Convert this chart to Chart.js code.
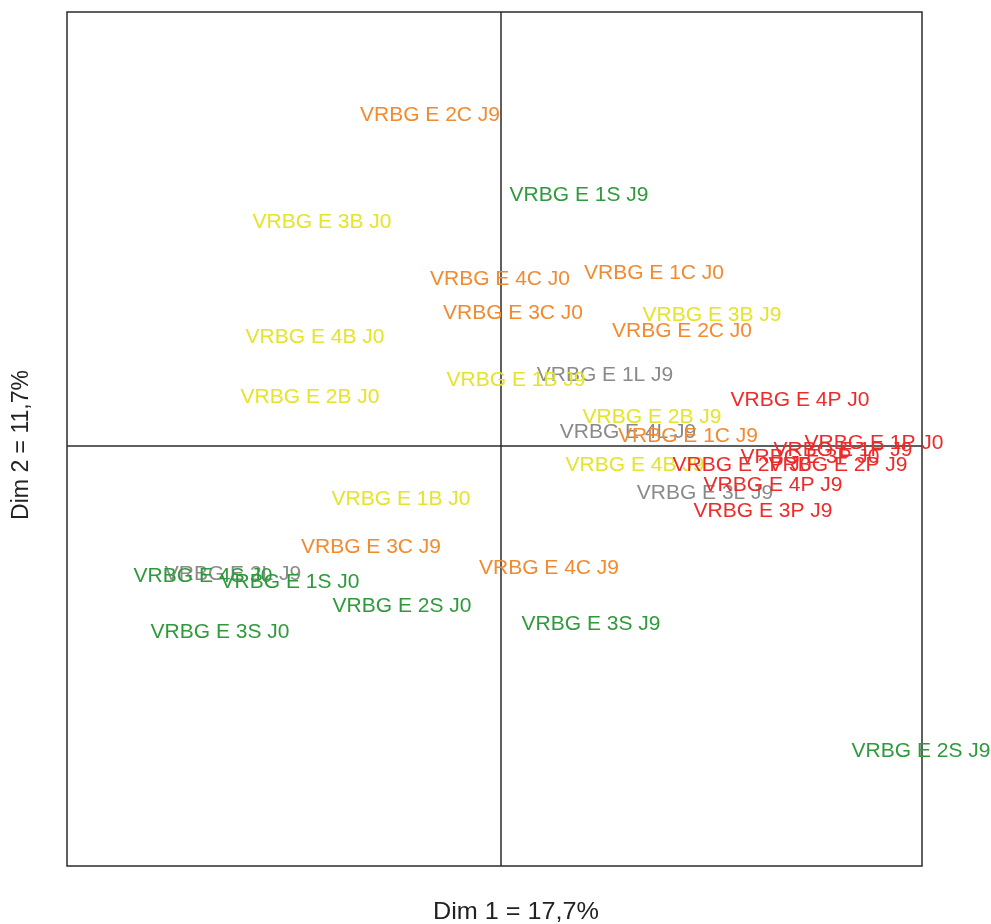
<!DOCTYPE html>
<html>
<head>
<meta charset="utf-8">
<script src="https://cdn.jsdelivr.net/npm/chart.js@4.4.1/dist/chart.umd.min.js"></script>
<style>
html,body{margin:0;padding:0;background:#fff;}
#wrap{width:991px;height:924px;position:relative;}
</style>
</head>
<body>
<div id="wrap"><canvas id="c" width="991" height="924"></canvas></div>
<script>
// Category labels and coordinates (Dim 1, Dim 2) per group
const cLabels = ["VRBG E 2C J9","VRBG E 4C J0","VRBG E 1C J0","VRBG E 3C J0","VRBG E 2C J0","VRBG E 1C J9","VRBG E 3C J9","VRBG E 4C J9"];
const cX = [-0.71, -0.01, 1.53, 0.12, 1.81, 1.87, -1.30, 0.48];
const cY = [3.31, 1.67, 1.73, 1.33, 1.15, 0.10, -1.01, -1.22];

const bLabels = ["VRBG E 3B J0","VRBG E 3B J9","VRBG E 4B J0","VRBG E 2B J0","VRBG E 1B J9","VRBG E 2B J9","VRBG E 4B J9","VRBG E 1B J0"];
const bX = [-1.79, 2.11, -1.86, -1.91, 0.15, 1.51, 1.34, -1.00];
const bY = [2.24, 1.31, 1.09, 0.49, 0.66, 0.29, -0.19, -0.53];

const sLabels = ["VRBG E 1S J9","VRBG E 4S J0","VRBG E 1S J0","VRBG E 2S J0","VRBG E 3S J9","VRBG E 3S J0","VRBG E 2S J9"];
const sX = [0.78, -2.98, -2.11, -0.99, 0.90, -2.81, 4.20];
const sY = [2.51, -1.30, -1.36, -1.60, -1.78, -1.86, -3.05];

const lLabels = ["VRBG E 1L J9","VRBG E 4L J9","VRBG E 3L J9","VRBG E 2L J9"];
const lX = [1.04, 1.27, 2.04, -2.68];
const lY = [0.71, 0.14, -0.47, -1.28];

const pLabels = ["VRBG E 4P J0","VRBG E 1P J0","VRBG E 1P J9","VRBG E 3P J0","VRBG E 2P J9","VRBG E 2P J0","VRBG E 4P J9","VRBG E 3P J9"];
const pX = [2.99, 3.73, 3.42, 3.09, 3.37, 2.41, 2.72, 2.62];
const pY = [0.46, 0.03, -0.04, -0.11, -0.19, -0.19, -0.39, -0.65];

const xTitle = "Dim 1 = 17,7%";
const yTitle = "Dim 2 = 11,7%";

function pts(xs, ys, ls){ return xs.map((x,i)=>({x:x, y:ys[i], label:ls[i]})); }

const groups = [
  {name:"L", color:"#8a8a8a", data:pts(lX,lY,lLabels)},
  {name:"B", color:"#e4e42a", data:pts(bX,bY,bLabels)},
  {name:"C", color:"#f28a30", data:pts(cX,cY,cLabels)},
  {name:"S", color:"#2f9a3c", data:pts(sX,sY,sLabels)},
  {name:"P", color:"#ee2a2a", data:pts(pX,pY,pLabels)}
];

const framePlugin = {
  id:'frame',
  beforeDatasetsDraw(chart){
    const {ctx, chartArea:a, scales} = chart;
    const x0 = scales.x.getPixelForValue(0);
    const y0 = scales.y.getPixelForValue(0);
    ctx.save();
    ctx.strokeStyle = '#2b2b2b';
    ctx.lineWidth = 1.5;
    ctx.strokeRect(a.left, a.top, a.right-a.left, a.bottom-a.top);
    ctx.beginPath();
    ctx.moveTo(x0, a.top); ctx.lineTo(x0, a.bottom);
    ctx.moveTo(a.left, y0); ctx.lineTo(a.right, y0);
    ctx.stroke();
    // titles
    ctx.fillStyle = '#222';
    ctx.textAlign = 'center';
    ctx.textBaseline = 'middle';
    ctx.font = '24px "Liberation Sans", Arial, sans-serif';
    ctx.save();
    ctx.translate(516, 912);
    ctx.scale(1.05, 1);
    ctx.fillText(xTitle, 0, 0);
    ctx.restore();
    ctx.font = '23px "Liberation Sans", Arial, sans-serif';
    ctx.translate(22, 445);
    ctx.rotate(-Math.PI/2);
    ctx.fillText(yTitle, 0, 0);
    ctx.restore();
  },
  afterDatasetsDraw(chart){
    const {ctx} = chart;
    ctx.save();
    ctx.font = '21px "Liberation Sans", Arial, sans-serif';
    ctx.textAlign = 'center';
    ctx.textBaseline = 'middle';
    chart.data.datasets.forEach((ds, di) => {
      const meta = chart.getDatasetMeta(di);
      ctx.fillStyle = ds.textColor;
      meta.data.forEach((el, i) => {
        ctx.fillText(ds.data[i].label, el.x, el.y);
      });
    });
    ctx.restore();
  }
};

new Chart(document.getElementById('c'), {
  type:'scatter',
  data:{
    datasets: groups.map(g => ({
      label:g.name, data:g.data, textColor:g.color,
      pointRadius:0, pointHoverRadius:0, backgroundColor:g.color, borderColor:g.color
    }))
  },
  options:{
    responsive:false,
    animation:false,
    layout:{padding:{left:67, right:69, top:12, bottom:58}},
    plugins:{legend:{display:false}, tooltip:{enabled:false}},
    events:[],
    scales:{
      x:{type:'linear', display:false, min:-4.34, max:4.21},
      y:{type:'linear', display:false, min:-4.20, max:4.34}
    }
  },
  plugins:[framePlugin]
});
</script>
</body>
</html>
